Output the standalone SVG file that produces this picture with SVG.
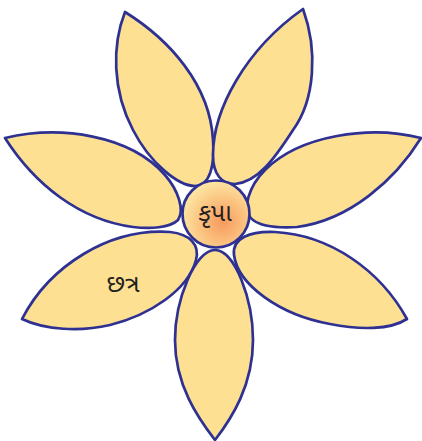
<svg xmlns="http://www.w3.org/2000/svg" width="422" height="441" viewBox="0 0 422 441">
<style>
.petal{fill:#FDE092;stroke:#2E3192;stroke-width:2.7;stroke-linejoin:round}
.lbl{font-family:"Noto Sans Gujarati","Noto Sans","DejaVu Sans",sans-serif;fill:#231F20;text-anchor:middle}
</style>
<defs>
<radialGradient id="cg" cx="0.6" cy="0.62" r="0.6">
<stop offset="0" stop-color="#F79A5E"/>
<stop offset="0.55" stop-color="#FBC27F"/>
<stop offset="1" stop-color="#FDE3A0"/>
</radialGradient>
</defs>
<g id="petal-top-left"><path class="petal" d="M125,12 C170,40 210,85 213,140 C215,165 210,186 195,186 C178,186 150,163 133,130 C112,90 112,45 125,12 Z"/></g>
<g id="petal-top-right"><path class="petal" d="M303,9 C318,50 315,100 293,130 C275,158 258,182 235,184 C222,184 213,175 213,155 C213,110 245,50 303,9 Z"/></g>
<g id="petal-left"><path class="petal" d="M5,138 C60,125 130,135 165,175 C178,190 185,210 178,220 C170,228 150,229 133,227 C80,220 35,185 5,138 Z"/></g>
<g id="petal-right"><path class="petal" d="M421,138 C370,125 300,135 265,170 C250,185 240,210 253,220 C262,227 280,228 297,227 C350,220 395,180 421,138 Z"/></g>
<g id="petal-lower-left"><path class="petal" d="M22,319 C50,265 110,228 170,232 C190,234 200,245 196,260 C188,290 150,315 110,325 C80,332 45,330 22,319 Z"/>
<text class="lbl" x="123" y="292" font-size="25">છત્ર</text></g>
<g id="petal-lower-right"><path class="petal" d="M407,319 C380,270 330,235 275,232 C250,231 232,238 234,255 C238,285 280,315 330,324 C360,330 390,330 407,319 Z"/></g>
<g id="petal-bottom"><path class="petal" d="M215,250 C195,250 175,300 175,340 C175,385 198,418 215,440 C232,418 253,385 253,340 C253,300 235,250 215,250 Z"/></g>
<g id="center"><circle cx="216" cy="214" r="33.5" fill="url(#cg)" stroke="#2E3192" stroke-width="2.7"/>
<text class="lbl" x="215" y="221" font-size="25">કૃપા</text></g>
</svg>
